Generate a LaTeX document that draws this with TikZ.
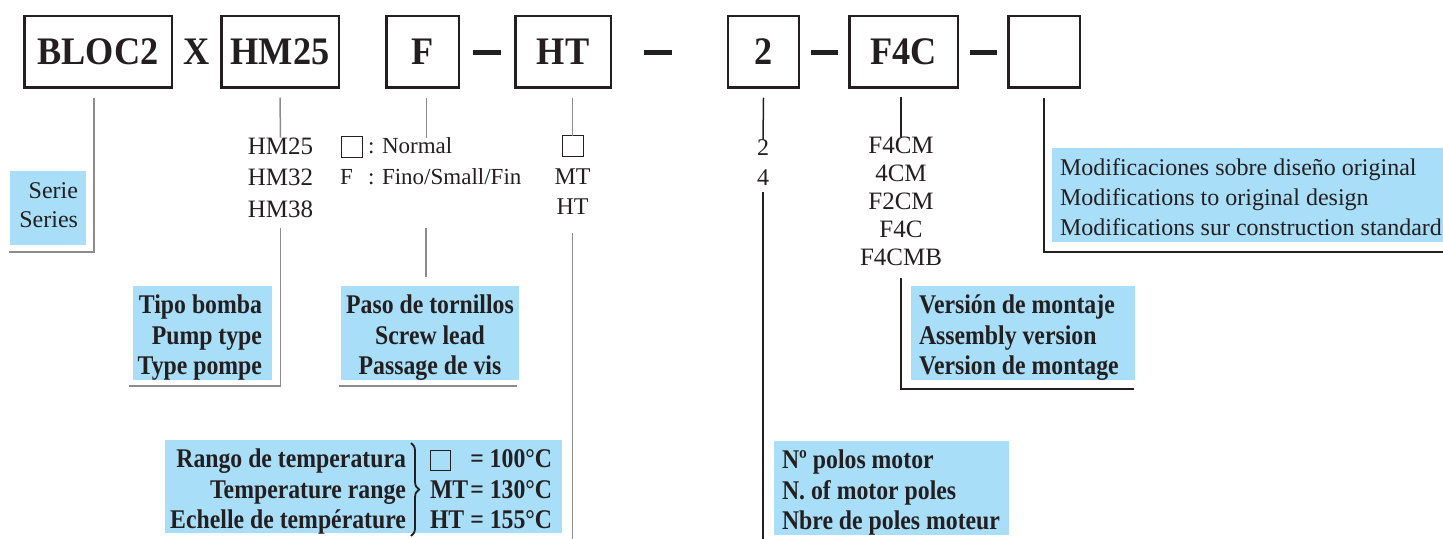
\documentclass[tikz,border=0pt]{standalone}
\usepackage{fontspec}
\setmainfont{Liberation Serif}
\newfontfamily\myBigB{Liberation Serif}[FakeStretch=0.93]
\newfontfamily\myCondB{Liberation Serif}[FakeStretch=0.88]
\usetikzlibrary{decorations.pathreplacing}
\definecolor{ink}{HTML}{231F20}
\definecolor{skyb}{HTML}{A9DEF8}
\definecolor{connG}{HTML}{8C8C8C}
\newcommand\myCode{\fontsize{19.5pt}{22pt}\myBigB\bfseries}
\newcommand\myLbl{\fontsize{13.5pt}{15.25pt}\myCondB\bfseries}
\newcommand\tsq{\raisebox{-1pt}{\fboxsep=0pt\fboxrule=0.5pt\fbox{\rule{0pt}{9.5pt}\hspace{9.5pt}}}}
\begin{document}
\begin{tikzpicture}[x=0.5pt,y=-0.5pt,
  every node/.style={inner sep=0pt,outer sep=0pt,text=ink},
  codebox/.style={draw=ink,line width=1.25pt,minimum height=35.75pt,font=\myCode},
  sepbar/.style={draw=ink,line width=2.5pt},
  conn/.style={draw=connG,line width=0.75pt},
  dconn/.style={draw=ink,line width=0.75pt},
  lbl/.style={fill=skyb,anchor=north west},
  btxt/.style={font=\myLbl},
  coltxt/.style={font=\fontsize{12.5pt}{15.75pt}\selectfont},
  smalltxt/.style={font=\fontsize{12pt}{15pt}\selectfont},
  opttxt/.style={font=\fontsize{11.5pt}{14pt}\selectfont},
  optsq/.style={draw=ink,line width=0.5pt,minimum size=10.5pt},
  brc/.style={draw=ink,line width=0.9pt,decorate,decoration={brace,amplitude=4pt}},
]
\useasboundingbox (0,0) rectangle (1443,539);

% code row
\node[codebox,minimum width=73.75pt] (bloc) at (98,52) {BLOC2};
\node[font=\myCode] (xsym) at (197,52) {X};
\node[codebox,minimum width=58.75pt] (hm) at (280,52) {HM25};
\node[codebox,minimum width=36.25pt] (fb) at (422.5,52) {F};
\node[codebox,minimum width=47.75pt] (ht) at (563,52) {HT};
\node[codebox,minimum width=35.5pt] (two) at (763.5,52) {2};
\node[codebox,minimum width=54.25pt] (f4c) at (903.5,52) {F4C};
\node[codebox,minimum width=35.75pt] (mod) at (1044,52) {};

% separators
\coordinate (s1a) at (473,53); \coordinate (s1b) at (501,53);
\coordinate (s2a) at (644,53); \coordinate (s2b) at (672,53);
\coordinate (s3a) at (811,53); \coordinate (s3b) at (838,53);
\coordinate (s4a) at (970,53); \coordinate (s4b) at (997,53);
\draw[sepbar] (s1a) -- (s1b);
\draw[sepbar] (s2a) -- (s2b);
\draw[sepbar] (s3a) -- (s3b);
\draw[sepbar] (s4a) -- (s4b);

% option lists
\node[coltxt,align=center] (hmlist) at (280.5,177.5) {HM25\\HM32\\HM38};
\node[optsq] (fsq) at (351.5,147.5) {};
\node[opttxt,anchor=base west] (normal) at (368,153.6) {: Normal};
\node[opttxt,anchor=base] (fopt) at (346.5,184.6) {F};
\node[opttxt,anchor=base west] (fino) at (368,184.6) {: Fino/Small/Fin};
\node[optsq] (htsq) at (572.5,146.5) {};
\node[smalltxt,align=center] (htlist) at (572.5,192) {MT\\HT};
\node[smalltxt,align=center] (twolist) at (763,162.5) {2\\4};
\node[font=\fontsize{12.5pt}{14pt}\selectfont,align=center] (f4clist) at (901,201) {F4CM\\4CM\\F2CM\\F4C\\F4CMB};

% labels
\node[lbl,minimum width=38pt,minimum height=37pt] (serie) at (10,171) {};
\node[font=\fontsize{12pt}{14.5pt}\selectfont,align=right,anchor=east] (serietxt) at ([xshift=-4pt,yshift=1.25pt]serie.east) {Serie\\Series};
\node[lbl,minimum width=69.5pt,minimum height=47pt] (tipo) at (133,286) {};
\node[btxt,align=right,anchor=east] (tipotxt) at ([xshift=-5pt,yshift=-2.5pt]tipo.east) {Tipo bomba\\Pump type\\Type pompe};
\node[lbl,minimum width=89pt,minimum height=47pt] (paso) at (341,286) {};
\node[btxt,align=center] (pasotxt) at ([yshift=-2.5pt]paso.center) {Paso de tornillos\\Screw lead\\Passage de vis};
\node[lbl,minimum width=112pt,minimum height=47pt] (vers) at (911,286) {};
\node[btxt,align=left,anchor=west] (verstxt) at ([xshift=4pt,yshift=-2.5pt]vers.west) {Versión de montaje\\Assembly version\\Version de montage};
\node[lbl,minimum width=195.5pt,minimum height=47pt] (modl) at (1052,148) {};
\node[font=\fontsize{12pt}{15pt}\selectfont,align=left,anchor=west] (modtxt) at ([xshift=4pt,yshift=-1pt]modl.west) {Modificaciones sobre diseño original\\Modifications to original design\\Modifications sur construction standard};
\node[lbl,minimum width=198.5pt,minimum height=46.5pt] (temp) at (165,440) {};
\node[btxt,align=right,anchor=east] (temptxt) at (406,492) {Rango de temperatura\\Temperature range\\Echelle de température};
\coordinate (bra) at (411,443); \coordinate (brb) at (411,536);
\draw[brc] (bra) -- (brb);
\node[btxt,anchor=west] (tempval) at (430,492) {\begin{tabular}{@{}l@{\hspace{1pt}}l@{}}\tsq & = 100°C\\ MT & = 130°C\\ HT & = 155°C\end{tabular}};
\node[lbl,minimum width=117.5pt,minimum height=47pt] (polos) at (773.5,441) {};
\node[btxt,align=left,anchor=west] (polostxt) at ([xshift=4.25pt,yshift=-2.5pt]polos.west) {Nº polos motor\\N. of motor poles\\Nbre de poles moteur};

% connectors
\coordinate (bot) at (0,539);
\draw[conn] ([xshift=-2pt,yshift=-5pt]bloc.south) |- ([xshift=-0.5pt,yshift=-3.5pt]serie.south west);
\draw[conn] ([yshift=-5pt]hm.south) -- (hmlist.north);
\draw[conn] ([yshift=-5.5pt]hmlist.south) |- ([xshift=-2pt,yshift=-3pt]tipo.south west);
\draw[conn] ([xshift=2pt,yshift=-5pt]fb.south) -- ([xshift=2pt]fb.south |- hmlist.north);
\draw[conn] ([xshift=-2pt,yshift=4.5pt]paso.north) -- ++(0,-49);
\draw[conn] ([xshift=-1pt,yshift=-3pt]paso.south west) -- ([xshift=-1pt,yshift=-3pt]paso.south east);
\draw[conn] ([xshift=4.75pt,yshift=-5pt]ht.south) -- (htsq.north);
\draw[conn] ([yshift=-9pt]htlist.south) -- (htlist.south |- bot);
\draw[dconn] ([yshift=-5pt]two.south) -- (twolist.north);
\draw[dconn] ([yshift=-3.5pt]twolist.south) -- (twolist.south |- bot);
\draw[dconn] ([xshift=-1.25pt,yshift=-4.5pt]f4c.south) -- (f4clist.north);
\draw[dconn] ([yshift=-6.5pt]f4clist.south) |- ([xshift=-0.5pt,yshift=-4.5pt]vers.south east);
\draw[dconn] ([yshift=-5pt]mod.south) |- ([yshift=-5pt]modl.south east);
\end{tikzpicture}
\end{document}
